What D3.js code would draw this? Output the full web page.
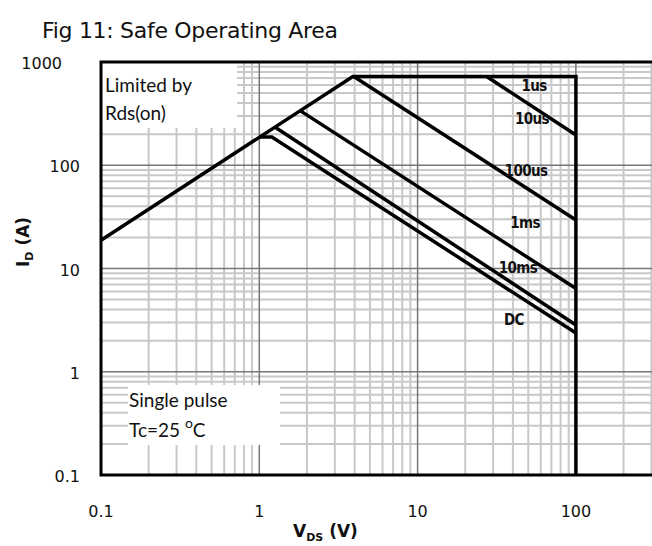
<!DOCTYPE html>
<html lang="en">
<head>
  <meta charset="UTF-8" />
  <title>Fig 11: Safe Operating Area</title>
  <script src="https://d3js.org/d3.v7.min.js"></script>
  <style>
    body { margin: 0; padding: 0; background: #fff; }
    svg { display: block; }
    .title { font-family: 'DejaVu Sans', sans-serif; font-size: 22px; letter-spacing: -0.3px; fill: #111; }
    .tick-label { font-family: 'DejaVu Sans', sans-serif; font-size: 16px; fill: #111; }
    .axis-title { font-family: 'DejaVu Sans', sans-serif; font-size: 17px; font-weight: bold; fill: #111; }
    .note { font-family: 'Lato', 'Open Sans', sans-serif; font-size: 19px; fill: #111; }
    .curve-label { font-family: 'DejaVu Sans Condensed', 'DejaVu Sans', sans-serif; font-stretch: condensed; font-size: 15px; font-weight: 600; fill: #111; letter-spacing: -0.6px; }
  </style>
</head>
<body>
  <svg width="652" height="546"></svg>

  <script>
    // tick values and labels
    const xTicks = [0.1, 1, 10, 100];
    const xTickLabels = ["0.1", "1", "10", "100"];
    const yTicks = [0.1, 1, 10, 100, 1000];
    const yTickLabels = ["0.1", "1", "10", "100", "1000"];

    // SOA curves, [V_DS, I_D] pairs
    const envelope = [[0.1, 18.8], [3.9, 724], [100, 724], [100, 0.1]];   // Rds(on) limit + 1us
    const curve10us = [[27.3, 724], [100, 196]];
    const curve100us = [[3.95, 724], [100, 29.5]];
    const curve1ms = [[1.8, 340], [100, 6.4]];
    const curve10ms = [[1.26, 233], [100, 2.84]];
    const curveDC = [[1.0, 188], [1.2, 188], [100, 2.37]];

    // curve labels: text and where they sit [V, I] (baseline)
    const labelNames = ["1us", "10us", "100us", "1ms", "10ms", "DC"];
    const labelPos = [[54.4, 523], [52.8, 250], [48.4, 78.7], [47.7, 24.7], [43, 9.04], [40.6, 2.84]];

    const svg = d3.select("svg");
    const plotL = 101, plotT = 62, plotB = 475, plotR = 652, decade = 158.3;

    const x = d3.scaleLog().domain([0.1, 1000]).range([plotL, plotL + 4 * decade]);
    const y = d3.scaleLog().domain([0.1, 1000]).range([plotB, plotT]);

    svg.append("rect").attr("width", 652).attr("height", 546).attr("fill", "#fff");

    // title
    svg.append("text").attr("class", "title")
      .attr("x", 42).attr("y", 38)
      .text("Fig 11: Safe Operating Area");

    // grid
    const grid = svg.append("g");
    const minorVals = [];
    [0.1, 1, 10, 100].forEach(d => d3.range(2, 10).forEach(k => minorVals.push(d * k)));

    grid.selectAll(".vminor").data(minorVals.filter(v => x(v) < plotR)).enter().append("line")
      .attr("x1", d => x(d)).attr("x2", d => x(d))
      .attr("y1", plotT).attr("y2", plotB)
      .attr("stroke", "#c8c8c8").attr("stroke-width", 2);
    grid.selectAll(".hminor").data(minorVals).enter().append("line")
      .attr("x1", plotL).attr("x2", plotR)
      .attr("y1", d => y(d)).attr("y2", d => y(d))
      .attr("stroke", "#c8c8c8").attr("stroke-width", 2);
    grid.selectAll(".vmajor").data([1, 10, 100]).enter().append("line")
      .attr("x1", d => x(d)).attr("x2", d => x(d))
      .attr("y1", plotT).attr("y2", plotB)
      .attr("stroke", "#777").attr("stroke-width", 1.5);
    grid.selectAll(".hmajor").data([1, 10, 100]).enter().append("line")
      .attr("x1", plotL).attr("x2", plotR)
      .attr("y1", d => y(d)).attr("y2", d => y(d))
      .attr("stroke", "#777").attr("stroke-width", 1.5);

    // white note boxes
    svg.append("rect").attr("x", plotL).attr("y", plotT).attr("width", 136).attr("height", 66).attr("fill", "#fff");
    svg.append("rect").attr("x", 128).attr("y", 385).attr("width", 152).attr("height", 60).attr("fill", "#fff");

    // frame
    svg.append("path")
      .attr("d", `M${plotR},${plotT}H${plotL}V${plotB}H${plotR}`)
      .attr("fill", "none").attr("stroke", "#000").attr("stroke-width", 3);

    // curves
    const line = d3.line().x(d => x(d[0])).y(d => y(d[1]));
    const curves = [envelope, curve10us, curve100us, curve1ms, curve10ms, curveDC];
    svg.append("g").selectAll("path").data(curves).enter().append("path")
      .attr("d", line)
      .attr("fill", "none").attr("stroke", "#000")
      .attr("stroke-width", 3.5).attr("stroke-linejoin", "miter");

    // curve labels
    svg.append("g").selectAll("text").data(labelNames).enter().append("text")
      .attr("class", "curve-label")
      .attr("x", (d, i) => x(labelPos[i][0]))
      .attr("y", (d, i) => y(labelPos[i][1]))
      .attr("text-anchor", "middle")
      .text(d => d);

    // notes
    svg.append("text").attr("class", "note").attr("x", 105).attr("y", 92).text("Limited by");
    svg.append("text").attr("class", "note").attr("x", 105).attr("y", 120).text("Rds(on)");
    svg.append("text").attr("class", "note").attr("x", 129).attr("y", 407).text("Single pulse");
    const tc = svg.append("text").attr("class", "note").attr("x", 129).attr("y", 437);
    tc.append("tspan").text("Tc=25 ");
    tc.append("tspan").attr("font-size", 14).attr("dy", -9).text("o");
    tc.append("tspan").attr("dy", 9).text("C");

    // tick labels
    svg.selectAll(".xt").data(xTicks).enter().append("text")
      .attr("class", "tick-label")
      .attr("x", d => x(d)).attr("y", 517)
      .attr("text-anchor", "middle")
      .text((d, i) => xTickLabels[i]);
    svg.selectAll(".yt").data(yTicks).enter().append("text")
      .attr("class", "tick-label")
      .attr("x", d => d === 1000 ? 62 : 80)
      .attr("y", d => y(d) + 7)
      .attr("text-anchor", "end")
      .text((d, i) => yTickLabels[i]);

    // axis titles
    const xt = svg.append("text").attr("class", "axis-title").attr("x", 293).attr("y", 537);
    xt.append("tspan").text("V");
    xt.append("tspan").attr("font-size", 11).attr("dy", 4).text("DS");
    xt.append("tspan").attr("dy", -4).text(" (V)");

    const yt = svg.append("text").attr("class", "axis-title")
      .attr("transform", "translate(29,267) rotate(-90)");
    yt.append("tspan").text("I");
    yt.append("tspan").attr("font-size", 11).attr("dy", 4).text("D");
    yt.append("tspan").attr("dy", -4).text(" (A)");
  </script>
</body>
</html>
